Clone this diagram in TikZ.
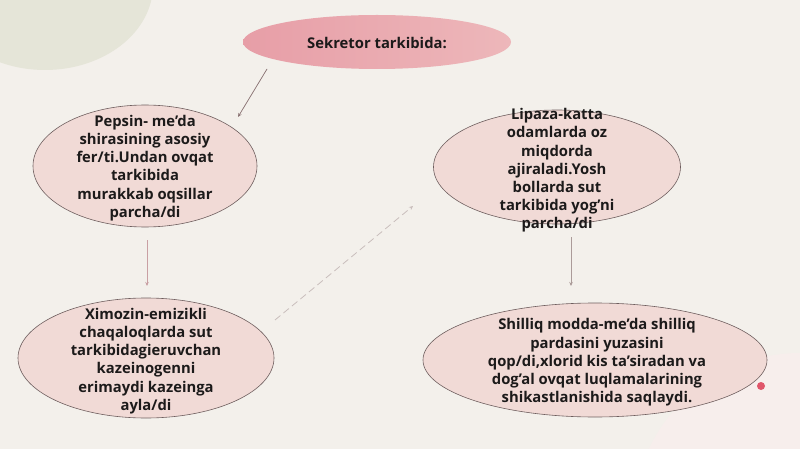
\documentclass[tikz,border=0pt]{standalone}
\usepackage{fontspec}
\setmainfont{Open Sans}
\usetikzlibrary{shapes.geometric,arrows.meta}
\definecolor{bg}{HTML}{F3F0EB}
\definecolor{blobg}{HTML}{E5E5D8}
\definecolor{blobp}{HTML}{F7EEEC}
\definecolor{titleL}{HTML}{E79EA7}
\definecolor{titleR}{HTML}{EDB7BA}
\definecolor{ellfill}{HTML}{F1DAD6}
\definecolor{ellline}{HTML}{6E5E5E}
\definecolor{arrowc}{HTML}{8C7676}
\definecolor{arrowp}{HTML}{C99FA3}
\definecolor{dashc}{HTML}{C9BEBC}
\definecolor{dotc}{HTML}{E0566A}
\definecolor{txtc}{HTML}{1C1A1A}
\tikzset{
  ell/.style={ellipse, draw=ellline, line width=0.6pt, fill=ellfill, inner sep=0pt},
  txt/.style={align=center, text=txtc, font=\bfseries\fontsize{14.8}{18.2}\selectfont, inner sep=0pt},
  conn/.style={line width=0.7pt, -{Stealth[length=4pt,width=3.5pt]}},
}
\begin{document}
\begin{tikzpicture}[x=1pt,y=-1pt]
\useasboundingbox (0,0) rectangle (800,449);
\fill[bg] (0,0) rectangle (800,449);
\begin{scope}
\clip (0,0) rectangle (800,449);
\fill[blobg] (45,-15) ellipse [x radius=108, y radius=85];
\fill[blobp] (800,520) circle [radius=167];
\end{scope}
% title
\node[ellipse, inner sep=0pt, minimum width=268pt, minimum height=54pt, left color=titleL, right color=titleR] (title) at (377,42) {};
\node[txt] (titleT) at (377,43) {Sekretor tarkibida:};
% ellipses
\node[ell, minimum width=224pt, minimum height=122pt] (pep) at (145,166) {};
\node[txt] (pepT) at (145,168) {Pepsin- me’da\\shirasining asosiy\\fer/ti.Undan ovqat\\tarkibida\\murakkab oqsillar\\parcha/di};
\node[ell, minimum width=256pt, minimum height=120pt] (xim) at (146,358) {};
\node[txt] (ximT) at (146,361) {Ximozin-emizikli\\chaqaloqlarda sut\\tarkibidagieruvchan\\kazeinogenni\\erimaydi kazeinga\\ayla/di};
\node[ell, minimum width=247pt, minimum height=114pt] (lip) at (557,167) {};
\node[txt] (lipT) at (557,170.5) {Lipaza-katta\\odamlarda oz\\miqdorda\\ajiraladi.Yosh\\bollarda sut\\tarkibida yog’ni\\parcha/di};
\node[ell, minimum width=344pt, minimum height=114pt] (shi) at (595,360) {};
\node[txt] (shiT) at (597,362.5) {Shilliq modda-me’da shilliq\\pardasini yuzasini\\qop/di,xlorid kis ta’siradan va\\dog’al ovqat luqlamalarining\\shikastlanishida saqlaydi.};
% connector ends
\coordinate (a1s) at (267,69);
\coordinate (a1e) at (238,117);
\coordinate (a2s) at (147,240);
\coordinate (a2e) at (147,286);
\coordinate (a3s) at (413,206);
\coordinate (a4s) at (571,237);
\coordinate (a4e) at (571,286);
\coordinate (a3b) at (275,320);
\draw[conn, draw=arrowc, fill=arrowc] (a1s) -- (a1e);
\draw[conn, draw=arrowp] (a2s) -- (a2e);
\draw[conn, draw=dashc, dash pattern=on 7pt off 4pt, line width=0.8pt] (a3b) -- (a3s);
\draw[conn, draw=arrowc!70!bg] (a4s) -- (a4e);
% red dot
\fill[dotc] (761,386) circle [radius=4];
\end{tikzpicture}
\end{document}
